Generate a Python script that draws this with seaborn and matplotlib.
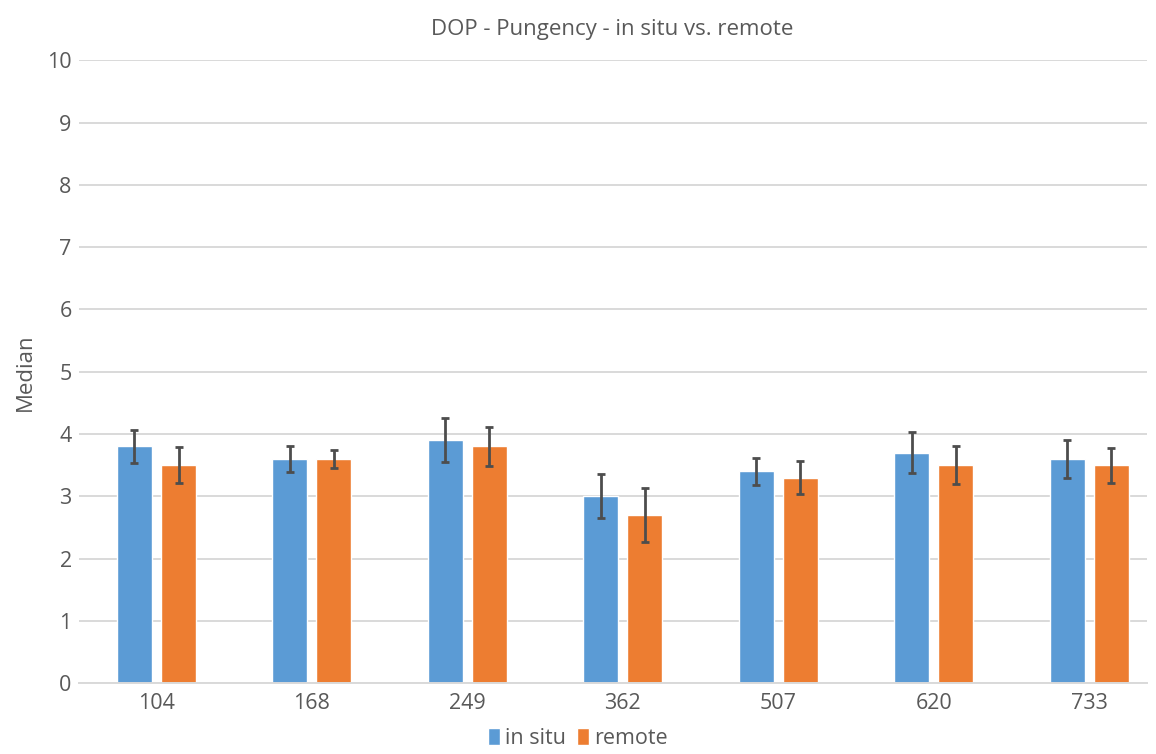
import pandas as pd
import matplotlib
matplotlib.use("Agg")
import matplotlib.pyplot as plt
import seaborn as sns

# values
samples = ["104", "168", "249", "362", "507", "620", "733"]
in_situ = [3.8, 3.6, 3.9, 3.0, 3.4, 3.7, 3.6]
remote = [3.5, 3.6, 3.8, 2.7, 3.3, 3.5, 3.5]
in_situ_err = [0.27, 0.21, 0.35, 0.35, 0.22, 0.33, 0.30]
remote_err = [0.29, 0.15, 0.32, 0.43, 0.26, 0.31, 0.28]

df = pd.DataFrame({
    "Sample": samples * 2,
    "Median": in_situ + remote,
    "err": in_situ_err + remote_err,
    "Condition": ["in situ"] * len(samples) + ["remote"] * len(samples),
})

sns.set_style("white")
plt.rcParams["font.family"] = ["Open Sans", "DejaVu Sans"]

fig, ax = plt.subplots(figsize=(11.56, 7.54), dpi=100)
fig.subplots_adjust(left=0.068, right=0.992, top=0.92, bottom=0.094)

palette = {"in situ": "#5B9BD5", "remote": "#ED7D31"}
sns.barplot(data=df, x="Sample", y="Median", hue="Condition", order=samples,
            hue_order=["in situ", "remote"], palette=palette, errorbar=None,
            width=0.57, gap=0.21, saturation=1, ax=ax, zorder=2, legend=True)

# error bars centred on the drawn bars
bars = [p for p in ax.patches if p.get_height() > 0]
for bar, err in zip(bars, df["err"]):
    cx = bar.get_x() + bar.get_width() / 2
    ax.errorbar(cx, bar.get_height(), yerr=err, fmt="none", ecolor="#4d4d4d",
                elinewidth=2.0, capsize=3, capthick=2.0, zorder=3)

ax.set_xlim(-0.5, 6.37)
ax.set_ylim(0, 10)
ax.set_yticks(range(0, 11))
ax.grid(axis="y", color="#d9d9d9", linewidth=1.4, zorder=0)
ax.set_axisbelow(True)
for s in ["top", "right", "left"]:
    ax.spines[s].set_visible(False)
ax.spines["bottom"].set_color("#d9d9d9")
ax.spines["bottom"].set_linewidth(1.4)
ax.tick_params(axis="both", length=0, labelsize=15.5, labelcolor="#595959")
ax.tick_params(axis="x", pad=7)
ax.tick_params(axis="y", pad=5)
ax.set_xlabel("")
ax.set_ylabel("Median", fontsize=16, color="#595959", labelpad=8)
ax.set_title("DOP - Pungency - in situ vs. remote", fontsize=16, color="#595959", pad=18)

handles, labels = ax.get_legend_handles_labels()
ax.get_legend().remove()
fig.legend(handles, labels, loc="lower center", bbox_to_anchor=(0.5, -0.008), ncol=2,
           frameon=False, fontsize=15.5, handlelength=0.55, handleheight=0.85,
           handletextpad=0.25, columnspacing=0.5, borderpad=0.0, labelcolor="#595959")

fig.savefig("out.png", dpi=100)
